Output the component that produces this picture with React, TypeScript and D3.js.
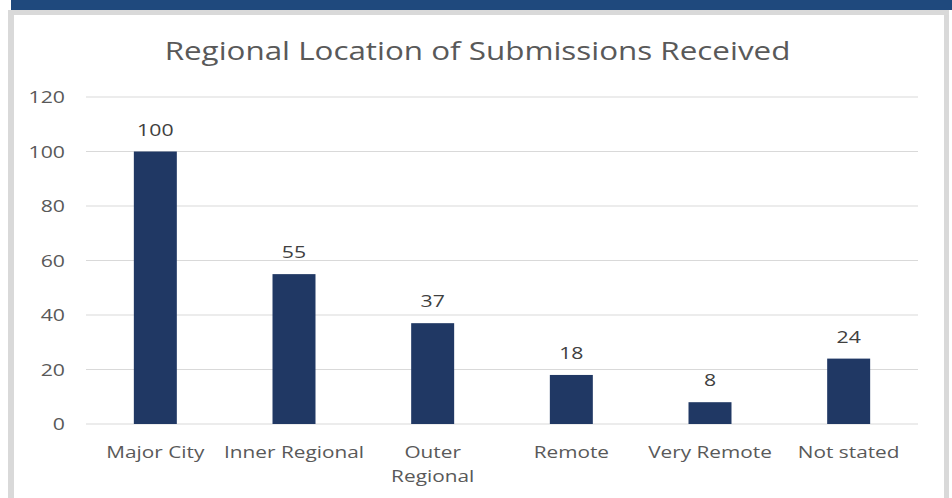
import React from "react";
import * as d3 from "d3";

const categories = ["Major City", "Inner Regional", "Outer Regional", "Remote", "Very Remote", "Not stated"];
const values = [100, 55, 37, 18, 8, 24];
const yTicks = [0, 20, 40, 60, 80, 100, 120];
const title = "Regional Location of Submissions Received";

const W = 952;
const H = 498;
const left = 86;
const right = 918;
const top = 97;
const bottom = 424;
const font = "'Open Sans', 'Noto Sans', sans-serif";

function T(props: { x: number; y: number; sx: number; size: number; anchor: string; fill: string; children: any }) {
  return (
    <text
      transform={`translate(${props.x},${props.y}) scale(${props.sx},1)`}
      textAnchor={props.anchor}
      fontFamily={font}
      fontSize={props.size}
      fill={props.fill}
    >
      {props.children}
    </text>
  );
}

export default function App() {
  const x = d3.scaleBand<string>().domain(categories).range([left, right]).paddingInner(0.69).paddingOuter(0.345);
  const xc = d3.scaleBand<string>().domain(categories).range([left, right]);
  const y = d3.scaleLinear().domain([0, 120]).range([bottom, top]);
  const wrap = (s: string) => (s === "Outer Regional" ? ["Outer", "Regional"] : [s]);
  return (
    <svg width={W} height={H} style={{ position: "absolute", left: 0, top: 0, display: "block" }}>
      <rect x={0} y={0} width={W} height={H} fill="#ffffff" />
      <rect x={11} y={0} width={W - 11} height={10} fill="#1f497d" />
      <rect x={8} y={10} width={941} height={H - 10} fill="#d9d9d9" />
      <rect x={14} y={15} width={930} height={H - 15} fill="#ffffff" />
      <T x={477.5} y={60} sx={1.255} size={25} anchor="middle" fill="#595959">
        {title}
      </T>
      {yTicks.map((t) => (
        <g key={t}>
          <line x1={left} x2={right} y1={y(t)} y2={y(t)} stroke="#d9d9d9" strokeWidth={1} />
          <T x={65} y={y(t) + 6} sx={1.33} size={16} anchor="end" fill="#595959">
            {t}
          </T>
        </g>
      ))}
      {categories.map((c, i) => (
        <g key={c}>
          <rect x={x(c)!} y={y(values[i])} width={x.bandwidth()} height={bottom - y(values[i])} fill="#203864" />
          <T x={x(c)! + x.bandwidth() / 2} y={y(values[i]) - 16} sx={1.33} size={16} anchor="middle" fill="#404040">
            {values[i]}
          </T>
          {wrap(c).map((line, j) => (
            <T key={j} x={xc(c)! + xc.bandwidth() / 2} y={458 + j * 24} sx={1.3} size={16} anchor="middle" fill="#595959">
              {line}
            </T>
          ))}
        </g>
      ))}
    </svg>
  );
}
